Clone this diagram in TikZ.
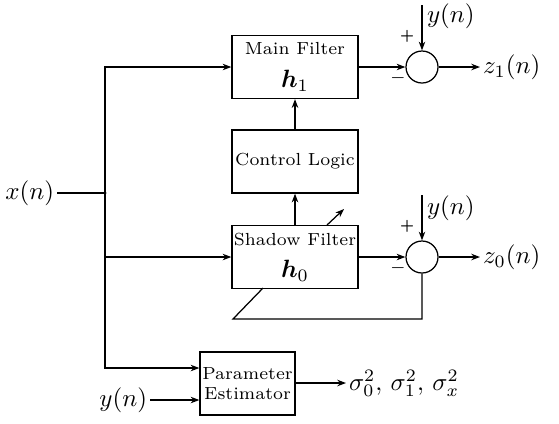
\documentclass[tikz,border=0pt]{standalone}
\usepackage{bm}
\usetikzlibrary{arrows.meta}
\begin{document}
\begin{tikzpicture}[x=0.4pt,y=-0.4pt,
  blk/.style={draw,line width=0.5pt,inner sep=0pt,align=center,minimum width=50.4pt,minimum height=25.2pt},
  sumc/.style={draw,circle,line width=0.5pt,inner sep=0pt,minimum size=12.8pt},
  sig/.style={line width=0.5pt,-{Stealth[length=3.5pt,width=2.6pt]}},
  ln/.style={line width=0.5pt},
  lbl/.style={inner sep=1pt}]
\useasboundingbox (0,0) rectangle (559,423);
% blocks
\node[blk] (main) at (295,67) {\scriptsize Main Filter\\[1pt] $\bm{h}_1$};
\node[blk] (ctrl) at (295,161.5) {\scriptsize Control Logic};
\node[blk] (shad) at (295,257) {\scriptsize Shadow Filter\\[1pt] $\bm{h}_0$};
\node[blk,minimum width=38pt,font=\scriptsize,align=center] (par) at (247.5,383.5) {Parameter\\Estimator};
% summing junctions
\node[sumc] (s1) at (422,67) {};
\node[sumc] (s0) at (422,257) {};
% input
\node[lbl,anchor=east] (x) at (57,193) {$x(n)$};
\coordinate (br) at (105,193);
\coordinate (bt) at (105,67);
\coordinate (bb) at (105,257);
\coordinate (bp) at (105,368);
\draw[ln] (x.east) -- (br);
\fill (br) circle (1.6);
\draw[sig] (br) -- (bt) -- (main.west);
\draw[sig] (br) -- (bb) -- (shad.west);
\draw[sig] (bb) -- (bp) -- (par.west |- bp);
% y(n) into parameter estimator
\node[lbl,anchor=east] (yp) at (150,400) {$y(n)$};
\draw[sig] (yp.east) -- (par.west |- yp.east);
% outputs of parameter estimator
\node[lbl,anchor=west] (sg) at (346,383) {$\sigma_0^2,\,\sigma_1^2,\,\sigma_x^2$};
\draw[sig] (par.east |- sg.west) -- (sg.west);
% vertical chain
\draw[sig] (shad.north) -- (ctrl.south);
\draw[sig] (ctrl.north) -- (main.south);
% filters to sums
\draw[sig] (main.east) -- (s1.west);
\draw[sig] (shad.east) -- (s0.west);
% y(n) into sums
\coordinate (y1t) at (422,5);
\coordinate (y0t) at (422,195);
\draw[sig] (y1t) -- (s1.north);
\draw[sig] (y0t) -- (s0.north);
\node[lbl,anchor=west] (y1) at (424,16) {$y(n)$};
\node[lbl,anchor=west] (y0) at (424,208) {$y(n)$};
\node[font=\tiny\bfseries,inner sep=0pt] (p1) at (407,36) {+};
\node[font=\tiny\bfseries,inner sep=0pt] (p0) at (407,226) {+};
\node[font=\scriptsize,inner sep=0pt] (m1) at (398,78) {$-$};
\node[font=\scriptsize,inner sep=0pt] (m0) at (398,268) {$-$};
% sum outputs
\node[lbl,anchor=west] (z1) at (480,67) {$z_1(n)$};
\node[lbl,anchor=west] (z0) at (480,257) {$z_0(n)$};
\draw[sig] (s1.east) -- (z1.west);
\draw[sig] (s0.east) -- (z0.west);
% error feedback to shadow filter (adaptation)
\coordinate (fb1) at (422,319);
\coordinate (fb2) at (233,319);
\coordinate (fb3) at (263,288);
\draw[ln] (s0.south) -- (fb1) -- (fb2) -- (fb3);
% adaptation arrow
\coordinate (ad1) at (327,225);
\coordinate (ad2) at (344,209);
\draw[sig] (ad1) -- (ad2);
\end{tikzpicture}
\end{document}
